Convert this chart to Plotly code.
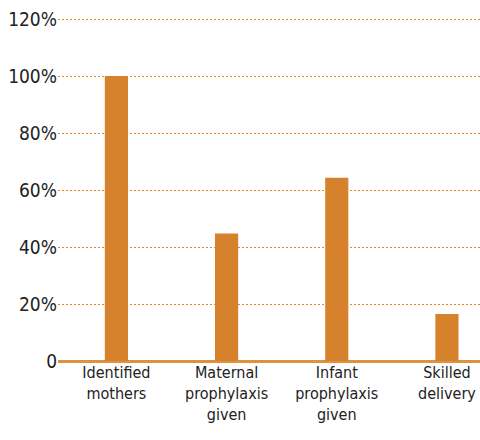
import plotly.graph_objects as go

categories = ["Identified<br>mothers", "Maternal<br>prophylaxis<br>given",
              "Infant<br>prophylaxis<br>given", "Skilled<br>delivery"]
values = [100, 44.7, 64.3, 16.5]
tick_vals = [0, 20, 40, 60, 80, 100, 120]
tick_text = ["0", "20%", "40%", "60%", "80%", "100%", "120%"]

orange = "#d6812b"
font_family = "DejaVu Sans Condensed, Liberation Sans Narrow, sans-serif"

fig = go.Figure()
fig.add_trace(go.Bar(x=[0, 1, 2, 3], y=values, marker_color=orange,
                     marker_line_width=0, width=0.21))

fig.update_layout(
    width=480, height=440, plot_bgcolor="white", paper_bgcolor="white",
    margin=dict(l=58, r=0, t=17, b=79),
    showlegend=False,
    font=dict(family=font_family, size=16, color="#222222"),
)
fig.update_xaxes(
    tickvals=[0, 1, 2, 3], ticktext=categories, range=[-0.53, 3.3],
    showgrid=False, showline=False, zeroline=False, ticks="",
    tickfont=dict(size=16), automargin=False,
)
# 344px plot height / 2.85 px per unit -> whole-pixel gridline spacing
fig.update_yaxes(
    range=[0, 344 / 2.85], tickvals=tick_vals, ticktext=tick_text,
    showgrid=True, gridcolor="#e8851a", griddash="2px,2px", gridwidth=1,
    zeroline=True, zerolinecolor="#e0913c", zerolinewidth=3,
    showline=False, ticks="", tickfont=dict(size=19), automargin=False,
)

# drop the page's default body margin so the figure fills the window
fig.write_html("out.html", config={"displayModeBar": False},
               post_script="document.body.style.margin='0';"
                           "document.body.style.overflow='hidden';")
